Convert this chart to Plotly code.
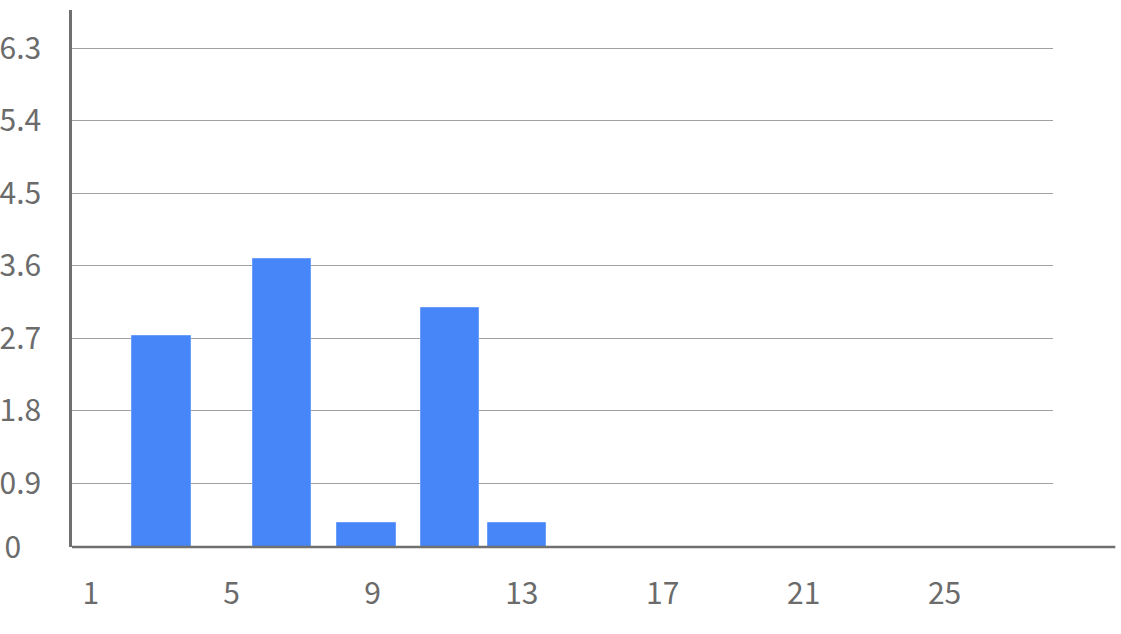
import plotly.graph_objects as go

# ---- data ----
bin_centers = [3.25, 6.66, 9.07, 11.44, 13.33]
values = [2.73, 3.68, 0.40, 3.08, 0.40]
x_tick_values = [1, 5, 9, 13, 17, 21, 25]
x_tick_labels = ["1", "5", "9", "13", "17", "21", "25"]
y_tick_values = [0.9, 1.8, 2.7, 3.6, 4.5, 5.4, 6.3]
y_tick_labels = ["0.9", "1.8", "2.7", "3.6", "4.5", "5.4", "6.3"]

Y_MIN = 0.107
Y_MAX = 6.776
X_MIN = 0.705
X_MAX = 28.55

FONT = "Noto Sans CJK SC"
TXT = "#6b6b6b"
FS = 30

fig = go.Figure()
fig.add_trace(go.Bar(
    x=bin_centers,
    y=values,
    width=1.66,
    marker=dict(color="#4686F9", line=dict(color="#6b9ef9", width=1)),
    hoverinfo="x+y",
))

fig.update_layout(
    width=1121,
    height=634,
    margin=dict(l=72, r=68, t=10, b=87, autoexpand=False),
    paper_bgcolor="white",
    plot_bgcolor="white",
    showlegend=False,
    font=dict(family=FONT, size=FS, color=TXT),
    bargap=0,
    xaxis=dict(
        type="linear",
        range=[X_MIN, X_MAX],
        tickvals=x_tick_values,
        ticktext=x_tick_labels,
        ticklabelposition="outside right",
        showgrid=False,
        zeroline=False,
        showline=False,
        ticks="",
        automargin=False,
        ticklabelstandoff=26,
        tickfont=dict(family=FONT, size=FS, color=TXT),
    ),
    yaxis=dict(
        range=[Y_MIN, Y_MAX],
        tickvals=[Y_MIN] + y_tick_values,
        ticktext=["0\u00a0\u00a0\u00a0"] + y_tick_labels,
        showgrid=True,
        gridcolor="#a0a0a0",
        gridwidth=1.2,
        zeroline=False,
        showline=True,
        linecolor="#707070",
        linewidth=2.5,
        ticks="",
        automargin=False,
        ticklabelstandoff=22,
        tickfont=dict(family=FONT, size=FS, color=TXT),
    ),
    shapes=[
        dict(type="line", xref="paper", yref="paper",
             x0=0, x1=1.0635, y0=0, y1=0,
             line=dict(color="#707070", width=2.7), layer="above"),
    ],
)

fig.write_html(
    "out.html",
    config={"displayModeBar": False},
    post_script="document.body.style.margin='0';document.body.style.overflow='hidden';",
)
